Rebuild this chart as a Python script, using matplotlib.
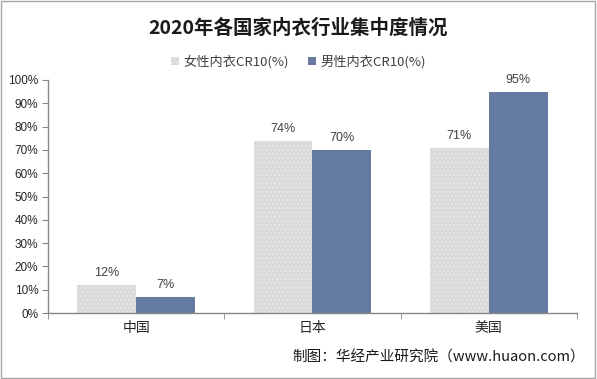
import matplotlib
matplotlib.use("Agg")
import matplotlib.pyplot as plt
import numpy as np
from matplotlib.patches import Rectangle

categories = ["中国", "日本", "美国"]
female = [12, 74, 71]
male = [7, 70, 95]
series_names = ["女性内衣CR10(%)", "男性内衣CR10(%)"]
yticks = [0, 10, 20, 30, 40, 50, 60, 70, 80, 90, 100]

cjk = ["Noto Sans CJK SC", "DejaVu Sans"]
latin = ["Liberation Sans", "Noto Sans CJK SC"]

fig = plt.figure(figsize=(5.97, 3.79), dpi=100)
fig.patches.append(Rectangle((0.002, 0.003), 0.995, 0.994, transform=fig.transFigure,
                             fill=False, edgecolor="#a6a6a6", lw=1))

ax = fig.add_axes([0.0804, 0.174, 0.886, 0.615])
x = np.arange(len(categories))
w = 1/3
c_f = "#d9d9d9"
c_m = "#667ba1"
b1 = ax.bar(x - w/2, female, w, color=c_f, hatch="....", edgecolor="#e6e6e6", lw=0, label=series_names[0])
b2 = ax.bar(x + w/2, male, w, color=c_m, lw=0, label=series_names[1])
for bars, vals in ((b1, female), (b2, male)):
    for r, v in zip(bars, vals):
        ax.text(r.get_x() + r.get_width()/2, v + 2.5, f"{v}%", ha="center", va="bottom",
                fontsize=9, color="#404040", family=latin)

ax.set_xlim(-0.5, 2.5)
ax.set_ylim(0, 100)
ax.set_yticks(yticks)
ax.set_yticklabels([f"{t}%" for t in yticks], family=latin, fontsize=8.5, color="#262626")
ax.set_xticks(x)
ax.set_xticklabels(categories, family=cjk, fontsize=10, color="#262626")
ax.tick_params(axis="x", length=0, pad=6)
ax.tick_params(axis="y", length=4, color="#868686", pad=3)
ax.set_xticks([-0.5, 0.5, 1.5, 2.5], minor=True)
ax.tick_params(axis="x", which="minor", length=4, color="#868686")
for s in ("top", "right"):
    ax.spines[s].set_visible(False)
for s in ("left", "bottom"):
    ax.spines[s].set_color("#868686")
    ax.spines[s].set_linewidth(1)

fig.text(0.5, 0.926, "2020年各国家内衣行业集中度情况", ha="center", va="center",
         fontsize=14, fontweight="bold", family=cjk, color="#1a1a1a")
leg = fig.legend(handles=[b1, b2], loc="center", bbox_to_anchor=(0.5, 0.837), ncol=2,
                 frameon=False, prop={"family": cjk, "size": 9.5}, handlelength=0.6,
                 handleheight=0.6, columnspacing=1.5, handletextpad=0.3)
for t in leg.get_texts():
    t.set_color("#404040")
fig.text(0.98, 0.058, "制图：华经产业研究院（www.huaon.com）", ha="right", va="center",
         fontsize=10.5, family=cjk, color="#1a1a1a")

fig.savefig("out.png", dpi=100)
